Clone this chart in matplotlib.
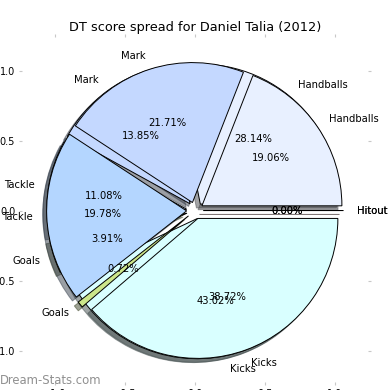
import numpy as np
import matplotlib
matplotlib.use('Agg')
import matplotlib.pyplot as plt

# categories in pie order (counter-clockwise from 0 degrees)
categories = ['Handballs', 'Mark', 'Tackle', 'Goals', 'Kicks', 'Hitout']
colors = ['#e8f0ff', '#c4d8ff', '#b4d6ff', '#cce68a', '#d9ffff', '#ffd9d9']

# the two spreads (percent)
spread_under = [28.14, 13.85, 11.08, 3.91, 43.02, 0.0]
spread_over = [19.06, 21.71, 19.78, 0.72, 38.72, 0.0]

explode = [0.06] * len(categories)

fig = plt.figure(figsize=(3.9, 3.9), dpi=100)
ax = fig.add_axes([22/390, 8/390, 346/390, 345/390])

wprops = {'edgecolor': 'black', 'linewidth': 0.7}
tprops = {'fontsize': 7.2}

for vals in (spread_under, spread_over):
    ax.pie(vals, labels=categories, colors=colors, explode=explode,
           autopct='%1.2f%%', shadow=True, frame=True,
           wedgeprops=wprops, textprops=tprops)

ax.set_xlim(-1.235, 1.235)
ax.set_ylim(-1.225, 1.24)
ax.set_aspect('equal')
ax.set_xticks([-1.0, -0.5, 0.0, 0.5, 1.0])
ax.set_yticks([-1.0, -0.5, 0.0, 0.5, 1.0])
for s in ax.spines.values():
    s.set_visible(False)
ax.tick_params(top=True, right=True, direction='out', length=2.5,
               width=0.8, color='#c8c8c8', labelsize=7, pad=2.5)

ax.set_title('DT score spread for Daniel Talia (2012)', fontsize=9.3, pad=4.5)

fig.text(0.0, 6/390, 'Dream-Stats.com', color='#909090', fontsize=8.4,
         fontweight='medium', ha='left', va='baseline')

fig.savefig('out.png', dpi=100)
